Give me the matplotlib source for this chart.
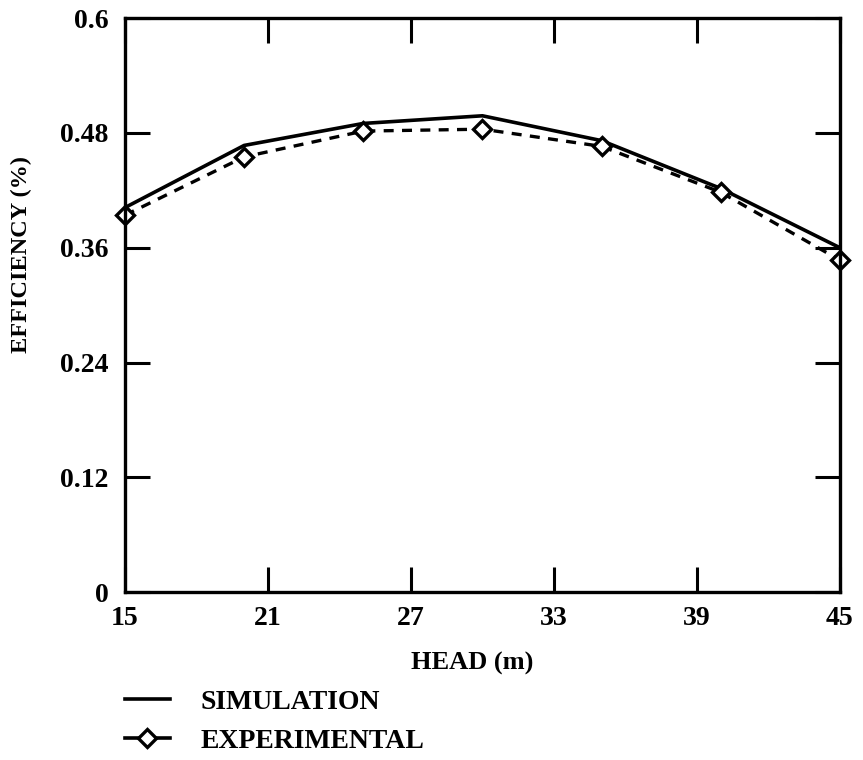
import matplotlib
matplotlib.use("Agg")
import matplotlib.pyplot as plt
from matplotlib.lines import Line2D

# data
head = [15, 20, 25, 30, 35, 40, 45]
simulation = [0.402, 0.467, 0.490, 0.498, 0.472, 0.422, 0.360]
experimental = [0.394, 0.455, 0.482, 0.484, 0.466, 0.418, 0.347]

x_ticks = [15, 21, 27, 33, 39, 45]
y_ticks = [0, 0.12, 0.24, 0.36, 0.48, 0.6]
y_tick_labels = ["0", "0.12", "0.24", "0.36", "0.48", "0.6"]

plt.rcParams['font.family'] = ['Liberation Serif', 'DejaVu Serif']
plt.rcParams['font.weight'] = 'bold'

fig = plt.figure(figsize=(8.63, 7.6), dpi=100)
ax = fig.add_axes([0.1448, 0.221, 0.8285, 0.755])

ax.plot(head, simulation, color='black', lw=2.6, solid_joinstyle='round')
ax.plot(head, experimental, color='black', lw=2.4, ls=(0, (3, 2.5)),
        marker='D', markersize=9, markerfacecolor='white',
        markeredgecolor='black', markeredgewidth=2.4, clip_on=False)

ax.set_xlim(15, 45)
ax.set_ylim(0, 0.6)
ax.set_xticks(x_ticks)
ax.set_yticks(y_ticks)
ax.set_yticklabels(y_tick_labels)
ax.tick_params(direction='in', length=18, width=2.2, top=True, right=True,
               labelsize=20)
ax.tick_params(axis='y', pad=12)
ax.tick_params(axis='x', pad=10)
for lab in ax.get_xticklabels() + ax.get_yticklabels():
    lab.set_fontweight('bold')
for sp in ax.spines.values():
    sp.set_linewidth(2.4)

ax.set_xlabel("HEAD (m)", fontsize=19, fontweight='bold')
ax.set_ylabel("EFFICIENCY (%)", fontsize=17.5, fontweight='bold')
ax.xaxis.set_label_coords(0.485, -0.1045)
ax.yaxis.set_label_coords(-0.130, 0.589)

handles = [
    Line2D([], [], color='black', lw=2.6),
    Line2D([], [], color='black', lw=2.6, marker='D', markersize=9,
           markerfacecolor='white', markeredgewidth=2.4),
]
fig.legend(handles, ["SIMULATION", "EXPERIMENTAL"], loc='lower left',
           bbox_to_anchor=(0.145, 0.008), frameon=False,
           borderpad=0, borderaxespad=0,
           prop={'size': 20, 'weight': 'bold'}, handlelength=1.6,
           labelspacing=0.5, handletextpad=1.1)

fig.savefig("out.png", dpi=100)
